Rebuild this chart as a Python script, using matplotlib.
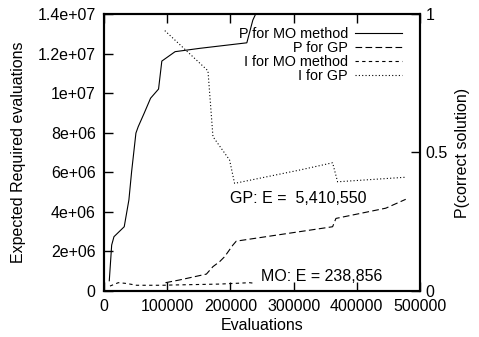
import matplotlib
matplotlib.use("Agg")
import matplotlib.pyplot as plt
from matplotlib.ticker import FixedLocator, FixedFormatter

plt.rcParams['font.family'] = ['Liberation Sans', 'DejaVu Sans']
plt.rcParams['font.size'] = 11.5

# P(correct solution) for the MO method (right axis)
p_mo_x = [8360, 12150, 15770, 32000, 39400, 43700, 50500, 54100, 63600, 73700,
          86300, 91500, 112500, 151400, 226000, 235500, 240000]
p_mo_y = [0.037, 0.166, 0.196, 0.232, 0.329, 0.431, 0.570, 0.593, 0.642, 0.696,
          0.729, 0.830, 0.864, 0.876, 0.896, 0.978, 1.0]

# P(correct solution) for GP (right axis)
p_gp_x = [97300, 119900, 162000, 172400, 183000, 190900, 204000, 209300,
          361700, 367000, 445900, 477400]
p_gp_y = [0.030, 0.040, 0.061, 0.088, 0.106, 0.124, 0.166, 0.180,
          0.232, 0.262, 0.299, 0.331]

# expected required evaluations for the MO method (left axis)
i_mo_x = [9460, 22600, 33100, 41000, 51600, 93500, 104100, 183000, 230300, 238000]
i_mo_y = [2.5e5, 4.2e5, 3.9e5, 3.5e5, 2.9e5, 2.9e5, 3.0e5, 3.5e5, 4.2e5, 3.9e5]

# expected required evaluations for GP (left axis)
i_gp_x = [96200, 164500, 172400, 198700, 206600, 309100, 361700, 369600, 477400]
i_gp_y = [1.316e7, 1.113e7, 7.80e6, 6.62e6, 5.44e6, 6.11e6, 6.48e6, 5.52e6, 5.75e6]

x_ticks = [0, 100000, 200000, 300000, 400000, 500000]
y_ticks = [0, 2e6, 4e6, 6e6, 8e6, 1e7, 1.2e7, 1.4e7]
y_tick_labels = ['0', '2e+06', '4e+06', '6e+06', '8e+06', '1e+07', '1.2e+07', '1.4e+07']
y2_ticks = [0, 0.5, 1]
y2_tick_labels = ['0', '0.5', '1']

fig = plt.figure(figsize=(4.79, 3.37), dpi=100)
ax = fig.add_axes([104 / 479, 1 - 291 / 337, 316 / 479, 277 / 337])
ax2 = ax.twinx()

lw = 0.8
h_i_gp, = ax.plot(i_gp_x, i_gp_y, color='black', lw=lw, linestyle=(0, (1, 2)))
h_i_mo, = ax.plot(i_mo_x, i_mo_y, color='black', lw=lw, linestyle=(0, (3, 3)))
h_p_mo, = ax2.plot(p_mo_x, p_mo_y, color='black', lw=lw, linestyle='-')
h_p_gp, = ax2.plot(p_gp_x, p_gp_y, color='black', lw=lw, linestyle=(0, (6, 3)))

ax.set_xlim(0, 500000)
ax.set_ylim(0, 1.4e7)
ax2.set_ylim(0, 1)

ax.xaxis.set_major_locator(FixedLocator(x_ticks))
ax.xaxis.set_major_formatter(FixedFormatter([str(v) for v in x_ticks]))
ax.yaxis.set_major_locator(FixedLocator(y_ticks))
ax.yaxis.set_major_formatter(FixedFormatter(y_tick_labels))
ax2.yaxis.set_major_locator(FixedLocator(y2_ticks))
ax2.yaxis.set_major_formatter(FixedFormatter(y2_tick_labels))

ax.tick_params(axis='x', direction='in', length=6.5, width=1, top=True, pad=6)
ax.tick_params(axis='y', direction='in', length=6.5, width=1, right=False, pad=6)
ax2.tick_params(axis='y', direction='in', length=6.5, width=1, pad=4)

for a in (ax, ax2):
    for s in a.spines.values():
        s.set_linewidth(1.5)

ax.set_xlabel('Evaluations')
ax.xaxis.set_label_coords(0.5, -0.098)
ax.set_ylabel('Expected Required evaluations')
ax.yaxis.set_label_coords(-0.247, 0.5)
ax2.set_ylabel('P(correct solution)')
ax2.yaxis.set_label_coords(1.112, 0.5)

ax.text(198700, 4.70e6, 'GP: E =  5,410,550', ha='left', va='center')
ax.text(249200, 7.1e5, 'MO: E = 238,856', ha='left', va='center')

ax2.legend([h_p_mo, h_p_gp, h_i_mo, h_i_gp],
           ['P for MO method', 'P for GP', 'I for MO method', 'I for GP'],
           loc='upper right', bbox_to_anchor=(402 / 479, 1 - 27 / 337),
           bbox_transform=fig.transFigure, frameon=False, markerfirst=False,
           fontsize=10.4, handlelength=3.25, handletextpad=0.5,
           labelspacing=-0.01, borderpad=0, borderaxespad=0)

fig.savefig('out.png', dpi=100)
